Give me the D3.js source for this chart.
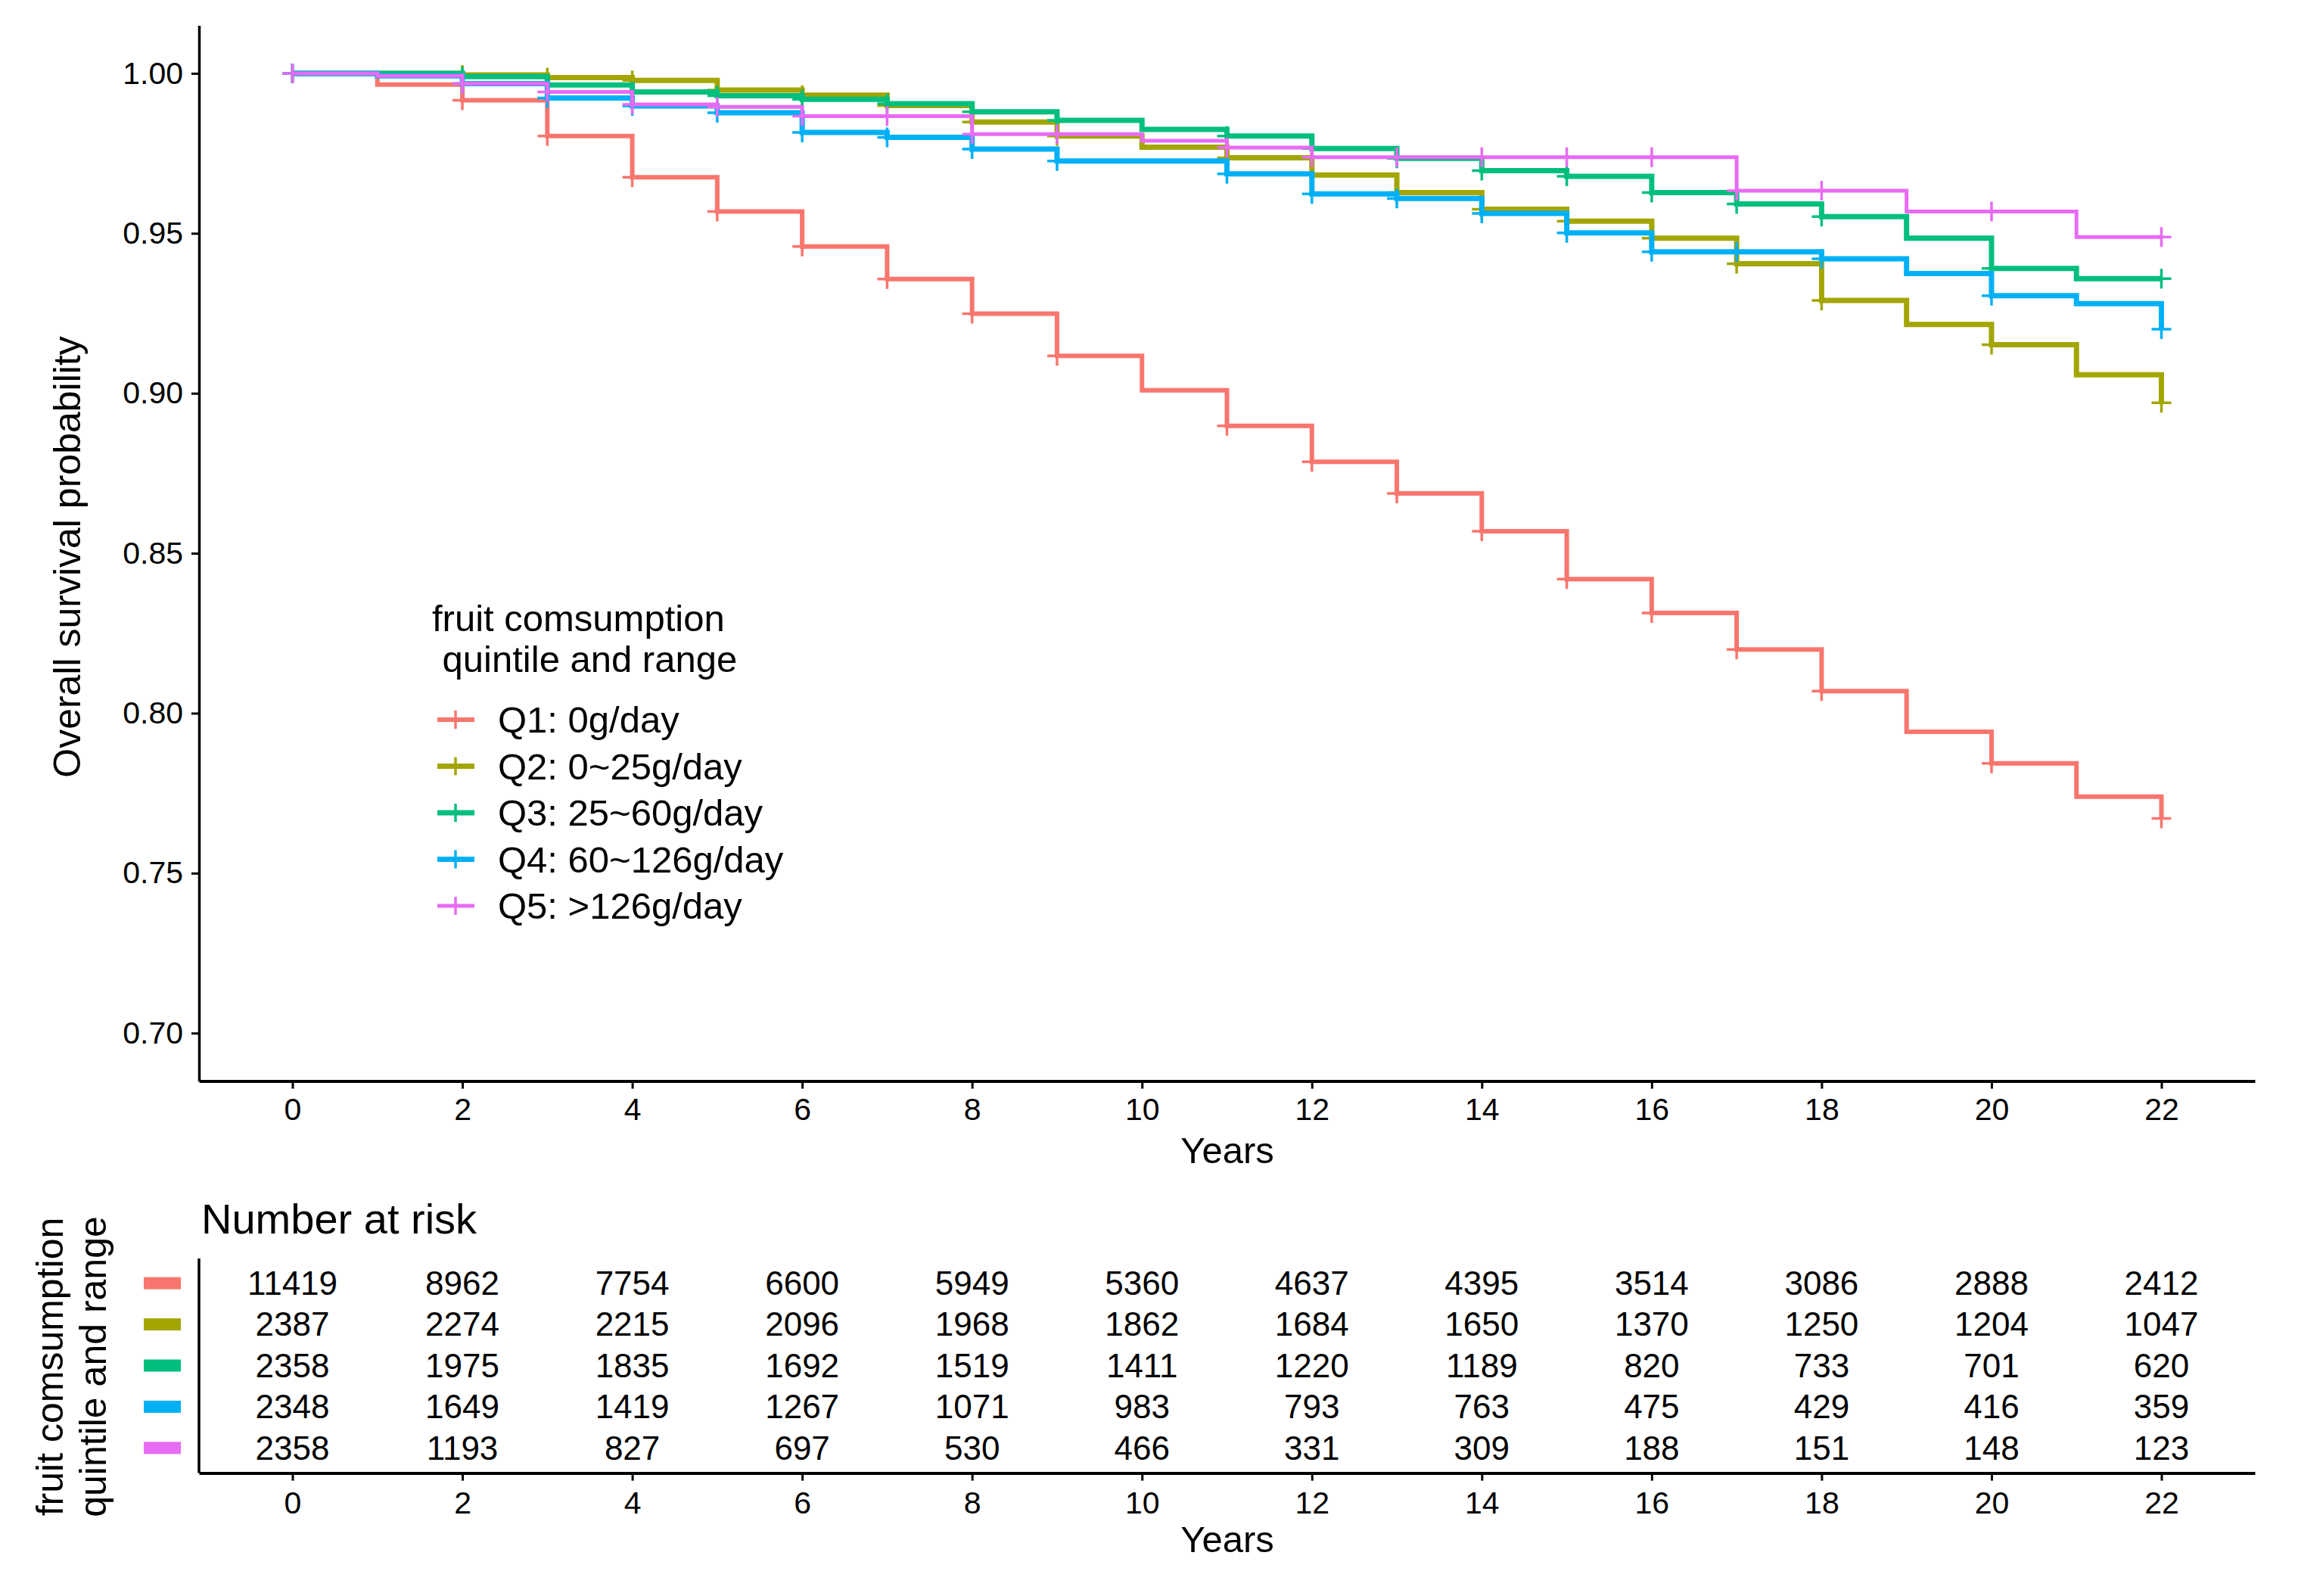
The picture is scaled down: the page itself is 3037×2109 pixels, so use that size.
<!DOCTYPE html>
<html>
<head>
<meta charset="utf-8">
<script src="https://cdn.jsdelivr.net/npm/d3@7"></script>
<style>
  body { margin: 0; background: #fff; }
  text { font-family: "Liberation Sans", Arial, Helvetica, sans-serif; fill: #000; }
</style>
</head>
<body>
<svg id="chart" width="3037" height="2109"></svg>
<script>
// survival curves (value holds from that year until the next)
var years = [0, 1, 2, 3, 4, 5, 6, 7, 8, 9, 10, 11, 12, 13, 14, 15, 16, 17, 18, 19, 20, 21, 22];
var groupNames = ['Q1: 0g/day', 'Q2: 0~25g/day', 'Q3: 25~60g/day', 'Q4: 60~126g/day', 'Q5: >126g/day'];

var q1Surv = [1.000, 0.9965, 0.9916, 0.9804, 0.9675, 0.9568, 0.9459, 0.9357, 0.9249, 0.9117, 0.9009, 0.8898,
  0.8786, 0.8687, 0.8569, 0.8419, 0.8313, 0.8199, 0.8069, 0.7942, 0.7843, 0.7739, 0.7671];
var q2Surv = [1.000, 1.000, 0.9995, 0.9987, 0.9978, 0.9948, 0.9932, 0.9899, 0.9848, 0.9804, 0.9769, 0.9736,
  0.9682, 0.9627, 0.9575, 0.9538, 0.9485, 0.9405, 0.9290, 0.9215, 0.9152, 0.9058, 0.8970];
var q3Surv = [1.000, 1.000, 0.9990, 0.9964, 0.9942, 0.9930, 0.9919, 0.9905, 0.9880, 0.9853, 0.9825, 0.9804,
  0.9765, 0.9734, 0.9696, 0.9678, 0.9627, 0.9592, 0.9552, 0.9485, 0.9390, 0.9358, 0.9358];
var q4Surv = [1.000, 0.9992, 0.9968, 0.9923, 0.9898, 0.9877, 0.9815, 0.9800, 0.9763, 0.9726, 0.9726, 0.9686,
  0.9623, 0.9609, 0.9562, 0.9501, 0.9442, 0.9442, 0.9420, 0.9374, 0.9305, 0.9280, 0.9200];
var q5Surv = [1.000, 0.9992, 0.9968, 0.9942, 0.9903, 0.9895, 0.9866, 0.9866, 0.9810, 0.9810, 0.9789, 0.9768,
  0.9738, 0.9738, 0.9738, 0.9738, 0.9738, 0.9633, 0.9633, 0.9568, 0.9568, 0.9488, 0.9488];

// years that carry a censoring "+"
var censorYears = [0, 2, 3, 4, 5, 6, 7, 8, 9, 11, 12, 13, 14, 15, 16, 17, 18, 20, 22];

// number at risk table
var riskYears = [0, 2, 4, 6, 8, 10, 12, 14, 16, 18, 20, 22];
var q1Risk = [11419, 8962, 7754, 6600, 5949, 5360, 4637, 4395, 3514, 3086, 2888, 2412];
var q2Risk = [2387, 2274, 2215, 2096, 1968, 1862, 1684, 1650, 1370, 1250, 1204, 1047];
var q3Risk = [2358, 1975, 1835, 1692, 1519, 1411, 1220, 1189, 820, 733, 701, 620];
var q4Risk = [2348, 1649, 1419, 1267, 1071, 983, 793, 763, 475, 429, 416, 359];
var q5Risk = [2358, 1193, 827, 697, 530, 466, 331, 309, 188, 151, 148, 123];

var xTicks = [0, 2, 4, 6, 8, 10, 12, 14, 16, 18, 20, 22];
var yTicks = [0.70, 0.75, 0.80, 0.85, 0.90, 0.95, 1.00];

var groupColors = ['#F8766D', '#A3A500', '#00BF7D', '#00B0F6', '#E76BF3'];
var lineWidths = [6, 7, 7, 7, 5];

var survs = [q1Surv, q2Surv, q3Surv, q4Surv, q5Surv];
var risks = [q1Risk, q2Risk, q3Risk, q4Risk, q5Risk];

var svg = d3.select('#chart');
svg.append('rect').attr('width', 3037).attr('height', 2109).attr('fill', '#fff');

var x = d3.scaleLinear().domain([-1.1, 23.1]).range([263, 2980]);
var y = d3.scaleLinear().domain([0.685, 1.015]).range([1428.6, 33.5]);

function styleAxis(g, width) {
  g.select('.domain').attr('stroke', '#000').attr('stroke-width', width);
  g.selectAll('.tick line').attr('stroke', '#000').attr('stroke-width', 3);
  g.selectAll('.tick text')
    .attr('fill', '#000')
    .style('font-size', '41px')
    .style('font-family', '"Liberation Sans", Arial, sans-serif');
}

// ---- survival panel ----
var yAxis = svg.append('g')
    .attr('transform', 'translate(263,0)')
    .call(d3.axisLeft(y).tickValues(yTicks).tickFormat(d3.format('.2f')).tickSize(10).tickSizeOuter(0).tickPadding(11));
styleAxis(yAxis, 3.5);

var xAxis = svg.append('g')
    .attr('transform', 'translate(0,1428.6)')
    .call(d3.axisBottom(x).tickValues(xTicks).tickSize(10).tickSizeOuter(0).tickPadding(12));
styleAxis(xAxis, 4);

svg.append('text')
    .attr('transform', 'translate(106,736) rotate(-90)')
    .attr('text-anchor', 'middle')
    .style('font-size', '50px')
    .text('Overall survival probability');

svg.append('text')
    .attr('x', 1622).attr('y', 1537)
    .attr('text-anchor', 'middle')
    .style('font-size', '49px')
    .text('Years');

var stepLine = d3.line()
    .x(function(d) { return x(d.t); })
    .y(function(d) { return y(d.s); })
    .curve(d3.curveStepAfter);

var curves = svg.append('g');
survs.forEach(function(surv, i) {
  var pts = years.map(function(t, j) { return {t: t, s: surv[j]}; });
  curves.append('path')
      .datum(pts)
      .attr('d', stepLine)
      .attr('fill', 'none')
      .attr('stroke', groupColors[i])
      .attr('stroke-width', lineWidths[i])
      .attr('stroke-linejoin', 'miter');

  // censor marks
  var marks = curves.append('g').attr('stroke', groupColors[i]).attr('stroke-width', 3.5);
  censorYears.forEach(function(t) {
    var cx = x(t), cy = y(surv[years.indexOf(t)]);
    marks.append('path').attr('d', 'M' + (cx - 13) + ',' + cy + 'H' + (cx + 13) + 'M' + cx + ',' + (cy - 13) + 'V' + (cy + 13));
  });
});

// legend
var legend = svg.append('g');
legend.append('text').attr('x', 571).attr('y', 834).style('font-size', '49px').text('fruit comsumption');
legend.append('text').attr('x', 571).attr('y', 888).style('font-size', '49px').style('white-space', 'pre').text(' quintile and range');

groupNames.forEach(function(name, i) {
  var cy = 951 + i * 61.5;
  legend.append('line')
      .attr('x1', 578).attr('x2', 627).attr('y1', cy).attr('y2', cy)
      .attr('stroke', groupColors[i]).attr('stroke-width', lineWidths[i]);
  legend.append('line')
      .attr('x1', 602).attr('x2', 602).attr('y1', cy - 12).attr('y2', cy + 12)
      .attr('stroke', groupColors[i]).attr('stroke-width', 3.5);
  legend.append('text')
      .attr('x', 658).attr('y', cy + 17)
      .style('font-size', '49px')
      .text(name);
});

// ---- risk table ----
var yRisk = d3.scalePoint().domain(groupNames).range([1663, 1946]).padding(0.6);

svg.append('text')
    .attr('x', 266).attr('y', 1630)
    .style('font-size', '56px')
    .text('Number at risk');

svg.append('line')
    .attr('x1', 263).attr('x2', 263).attr('y1', 1663).attr('y2', 1946.6)
    .attr('stroke', '#000').attr('stroke-width', 3.5);

var xRiskAxis = svg.append('g')
    .attr('transform', 'translate(0,1946.6)')
    .call(d3.axisBottom(x).tickValues(xTicks).tickSize(10).tickSizeOuter(0).tickPadding(14));
styleAxis(xRiskAxis, 4);

risks.forEach(function(row, i) {
  var g = svg.append('g');
  g.selectAll('text')
    .data(row)
    .enter().append('text')
      .attr('x', function(d, j) { return x(riskYears[j]); })
      .attr('y', yRisk(groupNames[i]))
      .attr('dy', '0.35em')
      .attr('text-anchor', 'middle')
      .style('font-size', '44px')
      .text(function(d) { return d; });

  svg.append('rect')
      .attr('x', 190).attr('width', 49)
      .attr('y', yRisk(groupNames[i]) - 8).attr('height', 16)
      .attr('fill', groupColors[i]);
});

svg.append('text')
    .attr('transform', 'translate(83,1806) rotate(-90)')
    .attr('text-anchor', 'middle')
    .style('font-size', '50px')
    .text('fruit comsumption');
svg.append('text')
    .attr('transform', 'translate(140,1806) rotate(-90)')
    .attr('text-anchor', 'middle')
    .style('font-size', '50px')
    .text('quintile and range');

svg.append('text')
    .attr('x', 1622).attr('y', 2051)
    .attr('text-anchor', 'middle')
    .style('font-size', '49px')
    .text('Years');
</script>
</body>
</html>
